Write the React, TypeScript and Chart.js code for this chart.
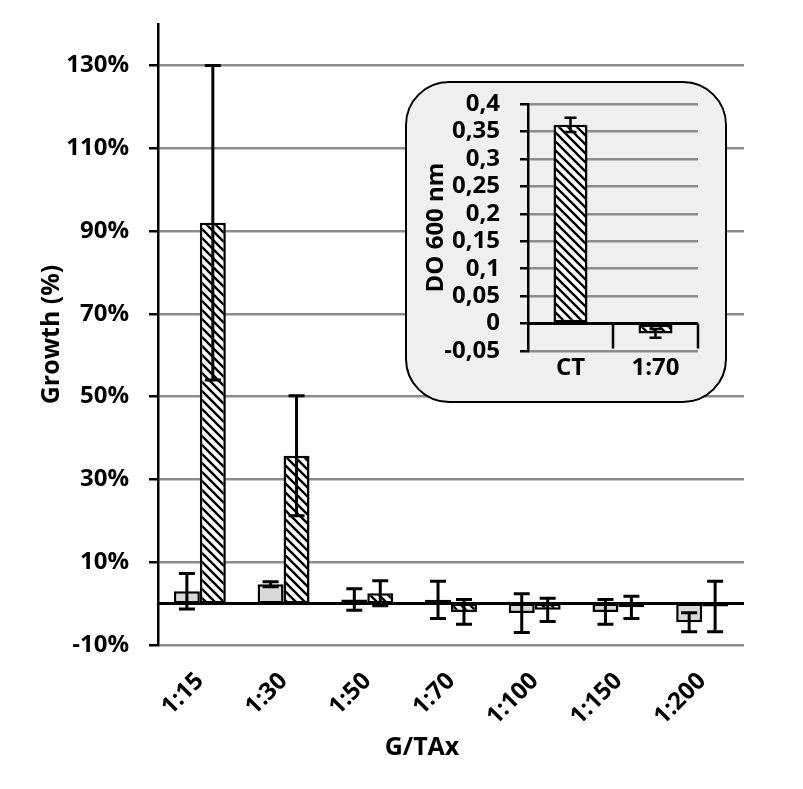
import React, { useEffect, useRef } from 'react';
import { Chart, registerables } from 'chart.js';

Chart.register(...registerables);

// ---- Main chart data ----
const categories = ['1:15', '1:30', '1:50', '1:70', '1:100', '1:150', '1:200'];
const seriesGray = [3, 4.7, 1, 0.9, -2.3, -2, -4.5];
const errGray = [4.3, 0.6, 2.6, 4.5, 4.7, 3, 2.3];
const seriesHatch = [92, 35.7, 2.5, -2, -1.5, -0.9, -0.7];
const errHatch = [38, 14.5, 3, 3, 2.8, 2.7, 6.1];
const mainTicks = [-10, 10, 30, 50, 70, 90, 110, 130];

// ---- Inset chart data ----
const insetCategories = ['CT', '1:70'];
const insetValues = [0.362, -0.018];
const insetErr = [0.013, 0.008];
const insetTicks = [-0.05, 0, 0.05, 0.1, 0.15, 0.2, 0.25, 0.3, 0.35, 0.4];

const FONT_FAMILY = "'Open Sans', 'DejaVu Sans', sans-serif";
const GRID = '#8c8c8c';

function makeHatch(): CanvasPattern | string {
  const c = document.createElement('canvas');
  const s = 9;
  c.width = s;
  c.height = s;
  const g = c.getContext('2d');
  if (!g) return '#fff';
  g.fillStyle = '#fff';
  g.fillRect(0, 0, s, s);
  g.strokeStyle = '#000';
  g.lineWidth = 2.4;
  g.beginPath();
  g.moveTo(-2, -2);
  g.lineTo(s + 2, s + 2);
  g.moveTo(-2, s - 2);
  g.lineTo(2, s + 2);
  g.moveTo(s - 2, -2);
  g.lineTo(s + 2, 2);
  g.stroke();
  return g.createPattern(c, 'repeat') || '#fff';
}

const decorPlugin = {
  id: 'decor',
  afterDatasetsDraw(chart: any, _args: any, opts: any) {
    const ctx = chart.ctx;
    const ys = chart.scales.y;
    const xs = chart.scales.x;
    const area = chart.chartArea;
    const y0 = ys.getPixelForValue(0);
    ctx.save();
    ctx.strokeStyle = '#000';
    ctx.lineCap = 'butt';
    // zero line
    ctx.lineWidth = 3;
    ctx.beginPath();
    ctx.moveTo(area.left, y0);
    ctx.lineTo(area.right, y0);
    ctx.stroke();
    // category boundary ticks hanging from zero line
    if (opts.boundaryTicks) {
      ctx.lineWidth = 2.5;
      const n = chart.data.labels.length;
      ctx.beginPath();
      for (let i = 0; i < n; i++) {
        const bx = xs.getPixelForValue(i + 0.5);
        ctx.moveTo(bx, y0);
        ctx.lineTo(bx, y0 + opts.boundaryTicks);
      }
      ctx.stroke();
    }
    // error bars
    ctx.lineWidth = opts.errWidth || 2.5;
    chart.data.datasets.forEach((ds: any, di: number) => {
      const errs = ds.errors;
      if (!errs) return;
      const meta = chart.getDatasetMeta(di);
      meta.data.forEach((bar: any, i: number) => {
        const v = ds.data[i];
        const e = errs[i];
        const x = bar.x;
        const top = ys.getPixelForValue(v + e);
        const bot = ys.getPixelForValue(v - e);
        const cap = opts.cap || 14;
        ctx.beginPath();
        ctx.moveTo(x, top);
        ctx.lineTo(x, bot);
        ctx.moveTo(x - cap / 2, top);
        ctx.lineTo(x + cap / 2, top);
        ctx.moveTo(x - cap / 2, bot);
        ctx.lineTo(x + cap / 2, bot);
        ctx.stroke();
      });
    });
    ctx.restore();
  },
  afterDraw(chart: any, _args: any, opts: any) {
    if (!opts.xTitle) return;
    const ctx = chart.ctx;
    const area = chart.chartArea;
    ctx.save();
    ctx.fillStyle = '#000';
    ctx.font = `bold ${opts.xTitle.size}px ${FONT_FAMILY}`;
    ctx.textAlign = 'center';
    ctx.textBaseline = 'middle';
    ctx.fillText(opts.xTitle.text, (area.left + area.right) / 2 + opts.xTitle.dx, chart.height - opts.xTitle.fromBottom);
    ctx.restore();
  },
};

export default function App() {
  const mainRef = useRef<HTMLCanvasElement>(null);
  const insetRef = useRef<HTMLCanvasElement>(null);

  useEffect(() => {
    if (!mainRef.current || !insetRef.current) return;
    const hatch = makeHatch();
    const tickFont = { family: FONT_FAMILY, size: 24, weight: 'bold' as const };

    const main = new Chart(mainRef.current, {
      type: 'bar',
      data: {
        labels: categories,
        datasets: [
          {
            data: seriesGray,
            errors: errGray,
            backgroundColor: '#d9d9d9',
            borderColor: '#000',
            borderWidth: 2.5,
            borderSkipped: false,
          } as any,
          {
            data: seriesHatch,
            errors: errHatch,
            backgroundColor: hatch,
            borderColor: '#000',
            borderWidth: 2.5,
            borderSkipped: false,
          } as any,
        ],
      },
      options: {
        animation: false,
        responsive: false,
        maintainAspectRatio: false,
        datasets: { bar: { categoryPercentage: 0.62, barPercentage: 1.0 } },
        layout: { padding: { top: 24, right: 59, left: 0, bottom: 0 } },
        plugins: {
          legend: { display: false },
          tooltip: { enabled: false },
          decor: { cap: 16, errWidth: 3, xTitle: { text: 'G/TAx', size: 25, dx: -29, fromBottom: 41 } },
        } as any,
        scales: {
          x: {
            offset: true,
            grid: { display: false, drawTicks: false },
            border: { display: false },
            ticks: {
              minRotation: 45,
              maxRotation: 45,
              autoSkip: false,
              color: '#000',
              font: tickFont,
              padding: 22,
            },
            afterFit: (s: any) => {
              s.height = 144;
            },
          },
          y: {
            min: -10,
            max: 140,
            afterBuildTicks: (s: any) => {
              s.ticks = mainTicks.map((v) => ({ value: v }));
            },
            grid: {
              color: GRID,
              lineWidth: 2.5,
              tickColor: '#000',
              tickLength: 9,
              tickWidth: 2.5,
            },
            border: { color: '#000', width: 2.5 },
            ticks: {
              autoSkip: false,
              color: '#000',
              font: tickFont,
              padding: 20,
              callback: (v: any) => `${v}%`,
            },
            title: {
              display: true,
              text: 'Growth (%)',
              color: '#000',
              font: { family: FONT_FAMILY, size: 25, weight: 'bold' },
              padding: { top: 37, bottom: 0 },
            },
            afterFit: (s: any) => {
              s.width = 158;
              s.paddingTop = 0;
              s.paddingBottom = 0;
            },
          },
        },
      },
      plugins: [decorPlugin],
    });

    const inset = new Chart(insetRef.current, {
      type: 'bar',
      data: {
        labels: insetCategories,
        datasets: [
          {
            data: insetValues,
            errors: insetErr,
            backgroundColor: hatch,
            borderColor: '#000',
            borderWidth: 2.5,
            borderSkipped: false,
          } as any,
        ],
      },
      options: {
        animation: false,
        responsive: false,
        maintainAspectRatio: false,
        datasets: { bar: { categoryPercentage: 1, barPercentage: 0.4 } },
        layout: { padding: { top: 22, right: 28, left: 0, bottom: 0 } },
        plugins: {
          legend: { display: false },
          tooltip: { enabled: false },
          decor: { cap: 12, errWidth: 2.5, boundaryTicks: 25 },
        } as any,
        scales: {
          x: {
            offset: true,
            grid: { display: false, drawTicks: false },
            border: { display: false },
            ticks: { color: '#000', font: tickFont, padding: 3, autoSkip: false, maxRotation: 0 },
            afterFit: (s: any) => {
              s.height = 51;
            },
          },
          y: {
            min: -0.05,
            max: 0.4,
            afterBuildTicks: (s: any) => {
              s.ticks = insetTicks.map((v) => ({ value: v }));
            },
            grid: {
              color: (c: any) => (c.tick && Math.abs(c.tick.value) < 1e-9 ? '#000' : GRID),
              lineWidth: 2.5,
              tickColor: '#000',
              tickLength: 8,
              tickWidth: 2.5,
            },
            border: { color: '#000', width: 2.5 },
            ticks: {
              autoSkip: false,
              color: '#000',
              font: tickFont,
              padding: 20,
              callback: (v: any) => String(Math.round(Number(v) * 100) / 100).replace('.', ','),
            },
            title: {
              display: true,
              text: 'DO 600 nm',
              color: '#000',
              font: { family: FONT_FAMILY, size: 24, weight: 'bold' },
              padding: { top: 16, bottom: 0 },
            },
            afterFit: (s: any) => {
              s.width = 122;
              s.paddingTop = 0;
              s.paddingBottom = 0;
            },
          },
        },
      },
      plugins: [decorPlugin],
    });

    return () => {
      main.destroy();
      inset.destroy();
    };
  }, []);

  return (
    <div style={{ position: 'absolute', left: 0, top: 0, width: 803, height: 789, background: '#fff' }}>
      <canvas ref={mainRef} width={803} height={789} style={{ position: 'absolute', left: 0, top: 0 }} />
      <div
        style={{
          position: 'absolute',
          left: 405,
          top: 81,
          width: 322,
          height: 322,
          boxSizing: 'border-box',
          border: '2.5px solid #000',
          borderRadius: 44,
          background: '#efefef',
        }}
      />
      <canvas ref={insetRef} width={320} height={320} style={{ position: 'absolute', left: 406, top: 82 }} />
    </div>
  );
}
